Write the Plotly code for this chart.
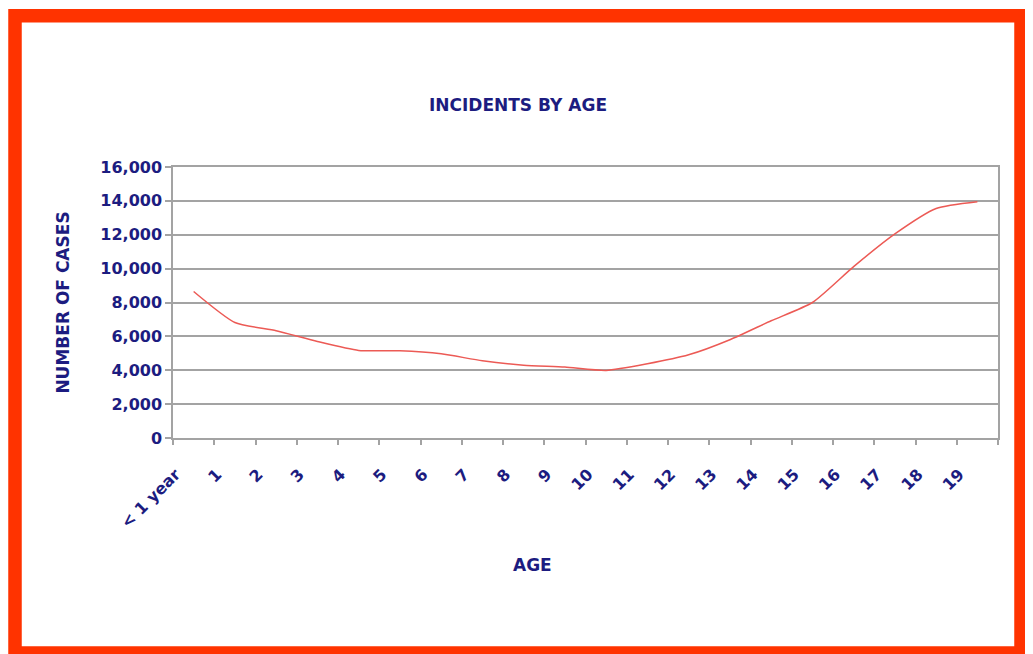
import plotly.graph_objects as go

ages = ["< 1 year", "1", "2", "3", "4", "5", "6", "7", "8", "9",
        "10", "11", "12", "13", "14", "15", "16", "17", "18", "19"]
cases = [8650, 6820, 6330, 5700, 5170, 5150, 4970, 4560, 4300, 4190,
         3990, 4380, 4910, 5800, 6920, 8000, 10120, 12050, 13550, 13950]
y_ticks = [0, 2000, 4000, 6000, 8000, 10000, 12000, 14000, 16000]

NAVY = "#1c1c80"
GRID = "#a3a3a3"
FONT = "DejaVu Sans"

# page body has an 8px margin; figure coordinates = screen - 8
W, H = 1025, 646
L, T = 165, 159
PW, PH = 825, 271


def px_x(x):
    return (x - 8 - L) / PW


def px_y(y):
    return 1 - (y - 8 - T) / PH


fig = go.Figure()
fig.add_trace(go.Scatter(
    x=ages, y=cases, mode="lines",
    line=dict(color="#ec5a55", width=1.5, shape="spline", smoothing=0.6),
    showlegend=False, hoverinfo="skip",
))

fig.update_layout(
    width=W, height=H,
    margin=dict(l=L, r=W - L - PW, t=T, b=H - T - PH, pad=0),
    paper_bgcolor="white", plot_bgcolor="white",
    title=dict(text="<b>INCIDENTS BY AGE</b>", x=(518 - 8) / W, xref="container",
               xanchor="center", y=1 - (105 - 8) / H, yref="container", yanchor="middle",
               font=dict(family=FONT, size=17, color=NAVY)),
    xaxis=dict(
        type="category", range=[-0.5, 19.5],
        tickmode="array", tickvals=ages, ticktext=[f"<b>{a}</b>" for a in ages],
        tickangle=-45, tickson="boundaries", ticks="outside", ticklen=5,
        tickcolor=GRID, tickwidth=1.5,
        ticklabelshift=-18, ticklabelstandoff=19,
        tickfont=dict(family=FONT, size=16, color=NAVY),
        showline=True, linecolor=GRID, linewidth=1.5, mirror=True,
        showgrid=False, zeroline=False,
    ),
    yaxis=dict(
        range=[0, 16000], tickmode="array", tickvals=y_ticks,
        ticktext=[f"<b>{v:,}</b>" for v in y_ticks],
        ticks="outside", ticklen=6, tickcolor=GRID, tickwidth=1.5,
        tickfont=dict(family=FONT, size=16, color=NAVY),
        showline=True, linecolor=GRID, linewidth=1.5, mirror=True,
        showgrid=True, gridcolor=GRID, gridwidth=1.8, zeroline=False,
        title=dict(text="<b>NUMBER OF CASES</b>", standoff=26,
                   font=dict(family=FONT, size=17, color=NAVY)),
    ),
    annotations=[dict(text="<b>AGE</b>", xref="paper", yref="paper",
                      x=px_x(532), y=px_y(565), xanchor="center", yanchor="middle",
                      showarrow=False, font=dict(family=FONT, size=17, color=NAVY))],
    shapes=[dict(type="rect", xref="paper", yref="paper",
                 x0=px_x(15), x1=px_x(1021),
                 y0=px_y(653), y1=px_y(15.75),
                 line=dict(color="#ff3300", width=13.5), fillcolor="rgba(0,0,0,0)",
                 layer="above")],
)

fig.write_html("out.html")
